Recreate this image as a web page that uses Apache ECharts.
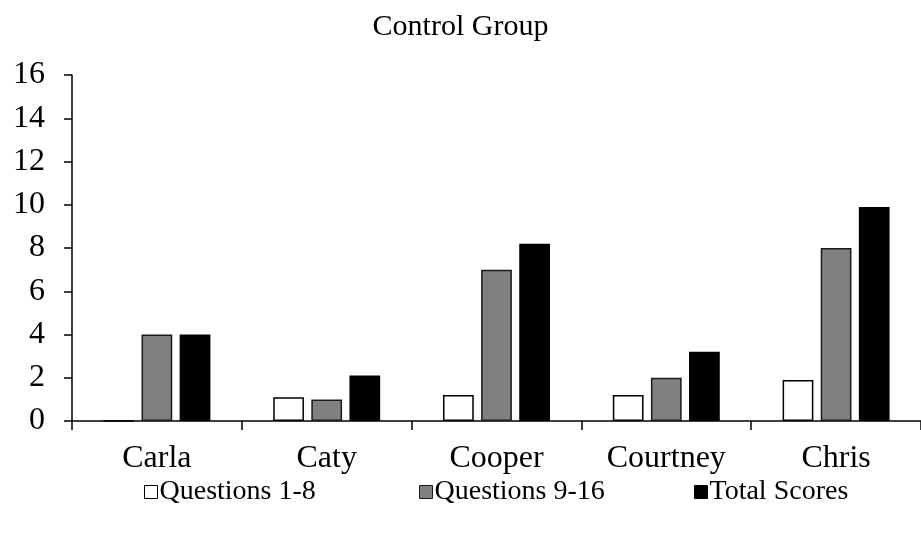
<!DOCTYPE html>
<html>
<head>
<meta charset="utf-8">
<script src="https://cdn.jsdelivr.net/npm/echarts@6/dist/echarts.min.js"></script>
<style>html,body{margin:0;padding:0;background:#fff}#c{width:921px;height:533px}</style>
</head>
<body>
<div id="c"></div>
<script>
const categories = ['Carla', 'Caty', 'Cooper', 'Courtney', 'Chris'];
const seriesNames = ['Questions 1-8', 'Questions 9-16', 'Total Scores'];
const q1to8 = [0, 1.1, 1.2, 1.2, 1.9];
const q9to16 = [4, 1, 7, 2, 8];
const totalScores = [4, 2.1, 8.2, 3.2, 9.9];
const yTicks = [0, 16, 2];

const FONT = "'Liberation Serif', 'Times New Roman', serif";
const chart = echarts.init(document.getElementById('c'), null, {renderer: 'canvas'});
const styles = [
  {color: '#ffffff', borderColor: '#000000', borderWidth: 1.5},
  {color: '#808080', borderColor: '#1a1a1a', borderWidth: 1.5},
  {color: '#000000', borderColor: '#000000', borderWidth: 1.5}
];
const dataSets = [q1to8, q9to16, totalScores];
const legendLefts = [139, 414, 689];
chart.setOption({
  animation: false,
  backgroundColor: '#ffffff',
  title: {
    text: 'Control Group', left: 'center', top: 7,
    textStyle: {fontFamily: FONT, fontSize: 30, fontWeight: 'normal', color: '#000'}
  },
  legend: seriesNames.map((n, i) => ({
    top: 473, left: legendLefts[i], itemWidth: 13, itemHeight: 13, icon: 'rect',
    textStyle: {fontFamily: FONT, fontSize: 28, color: '#000', padding: [0, 0, 0, -3]},
    itemStyle: {borderWidth: 1},
    data: [n]
  })),
  grid: {left: 72, right: -8, top: 75, bottom: 112, containLabel: false},
  xAxis: {
    type: 'category', data: categories,
    axisLine: {lineStyle: {color: '#000', width: 1.5}},
    axisTick: {show: true, length: 9, lineStyle: {color: '#000', width: 1.5}},
    axisLabel: {fontFamily: FONT, fontSize: 32, color: '#000', margin: 22}
  },
  yAxis: {
    type: 'value', min: yTicks[0], max: yTicks[1], interval: yTicks[2],
    axisLine: {show: true, lineStyle: {color: '#000', width: 1.5}},
    axisTick: {show: true, length: 8, lineStyle: {color: '#000', width: 1.5}},
    splitLine: {show: false},
    axisLabel: {fontFamily: FONT, fontSize: 32, color: '#000', margin: 27}
  },
  series: seriesNames.map((n, i) => ({
    name: n, type: 'bar', data: dataSets[i],
    barGap: '24%', barCategoryGap: '37%',
    itemStyle: styles[i]
  }))
});
</script>
</body>
</html>
